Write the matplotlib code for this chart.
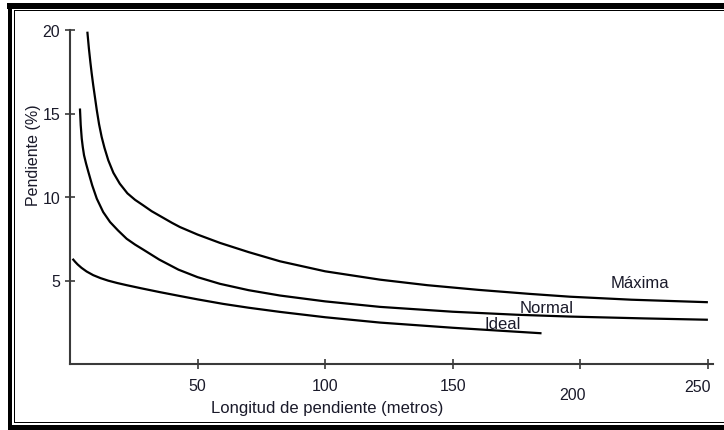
import matplotlib
matplotlib.use("Agg")
import matplotlib.pyplot as plt
from matplotlib.patches import Rectangle
from matplotlib.transforms import ScaledTranslation

plt.rcParams["font.family"] = ["Liberation Sans", "DejaVu Sans"]

# Curve data: slope length (m) vs. slope (%)
maxima_x = [6.8, 7.4, 8.0, 8.5, 9.1, 9.8, 10.5, 11.4, 12.4, 13.5, 15.0, 17.0, 19.5,
            22.5, 25.5, 28.7, 32.0, 36.0, 40.0, 43.1, 50.0, 58.8, 70.0, 82.3, 100.0,
            121.5, 140.0, 160.0, 180.0, 195.9, 220.0, 250.0]
maxima_y = [19.9, 18.9, 18.05, 17.4, 16.7, 15.95, 15.2, 14.35, 13.6, 12.95, 12.2, 11.45, 10.8,
            10.22, 9.83, 9.5, 9.15, 8.8, 8.45, 8.2, 7.75, 7.25, 6.7, 6.15, 5.55,
            5.05, 4.72, 4.44, 4.2, 4.03, 3.85, 3.7]

normal_x = [3.9, 4.2, 4.6, 5.0, 5.5, 6.3, 7.2, 8.7, 10.5, 13.0, 15.7, 18.8, 22.2,
            25.5, 28.7, 35.0, 42.5, 50.0, 58.8, 70.0, 82.3, 100.0, 121.5, 150.0,
            175.0, 195.9, 225.0, 250.0]
normal_y = [15.3, 14.3, 13.5, 13.0, 12.5, 12.0, 11.5, 10.7, 9.9, 9.1, 8.5, 8.0, 7.5,
            7.15, 6.85, 6.25, 5.65, 5.2, 4.8, 4.42, 4.1, 3.75, 3.42, 3.13,
            2.95, 2.84, 2.73, 2.65]

ideal_x = [1.0, 2.0, 3.0, 4.5, 6.5, 9.1, 12.0, 15.0, 18.5, 22.2, 28.0, 35.0, 43.1,
           50.0, 60.0, 70.0, 82.3, 100.0, 121.5, 150.0, 170.0, 184.8]
ideal_y = [6.3, 6.12, 5.96, 5.76, 5.54, 5.32, 5.14, 4.99, 4.85, 4.72, 4.53, 4.31, 4.07,
           3.87, 3.6, 3.37, 3.12, 2.8, 2.48, 2.17, 1.98, 1.84]

curve_names = ["Máxima", "Normal", "Ideal"]
name_pos = [(223.2, 4.88), (186.9, 3.39), (169.7, 2.43)]

x_ticks = [50, 100, 150, 200, 250]
y_ticks = [5, 10, 15, 20]

W, H = 724, 431
fig = plt.figure(figsize=(W / 100, H / 100), dpi=100)
fig.patch.set_facecolor("white")

# Axes placed so that 0 sits at x=70 px and 20 % at y=31 px
ax = fig.add_axes([70 / W, 66 / H, 643 / W, 334 / H])
ax.set_xlim(0, 252)
ax.set_ylim(0, 20)

for xs, ys in [(maxima_x, maxima_y), (normal_x, normal_y), (ideal_x, ideal_y)]:
    ax.plot(xs, ys, color="black", lw=1.6, solid_capstyle="butt",
            solid_joinstyle="round")

for name, (tx, ty) in zip(curve_names, name_pos):
    ax.text(tx, ty, name, ha="center", va="center", fontsize=12, color="#1a1a2a")

for side in ("top", "right"):
    ax.spines[side].set_visible(False)
for side in ("left", "bottom"):
    ax.spines[side].set_color("#3a3a3a")
    ax.spines[side].set_linewidth(1.5)

ax.set_xticks(x_ticks)
ax.set_xticklabels([str(v) for v in x_ticks])
ax.set_yticks(y_ticks)
ax.set_yticklabels([str(v) for v in y_ticks])
ax.tick_params(axis="both", direction="inout", length=7, width=1.2,
               color="#3a3a3a", labelsize=11.5, labelcolor="#1a1a2a")
ax.tick_params(axis="x", pad=6.5)
ax.tick_params(axis="y", pad=3.5)

# staggered x tick labels
offsets = {200: (-8, -9), 250: (-10, -1)}
for tick_val, lab in zip(x_ticks, ax.get_xticklabels()):
    if tick_val in offsets:
        dx, dy = offsets[tick_val]
        lab.set_transform(lab.get_transform() +
                          ScaledTranslation(dx / 100, dy / 100, fig.dpi_scale_trans))

ax.set_xlabel("Longitud de pendiente (metros)", fontsize=12, color="#1a1a2a")
ax.xaxis.set_label_coords(0.40, -0.108)
ax.set_ylabel("Pendiente (%)", fontsize=11.5, color="#1a1a2a")
ax.yaxis.set_label_coords(-0.045, 0.629)


# Page frame: thick bands with a thin inner rule on top, left and bottom
def px_rect(x0, y0, x1, y1):
    return Rectangle((x0 / W, 1 - y1 / H), (x1 - x0) / W, (y1 - y0) / H,
                     transform=fig.transFigure, facecolor="black",
                     edgecolor="none", zorder=10)


fig.patches.extend([
    px_rect(7, 3.5, W, 9.5),     # top band
    px_rect(7.5, 3.5, 12.5, H),  # left band
    px_rect(7.5, 426, W, H),     # bottom band
    px_rect(14, 10.8, W, 12.0),  # thin top rule
    px_rect(14, 10.8, 15.2, 424.3),  # thin left rule
    px_rect(14, 423.2, W, 424.3),    # thin bottom rule
])

fig.savefig("out.png", dpi=100)
